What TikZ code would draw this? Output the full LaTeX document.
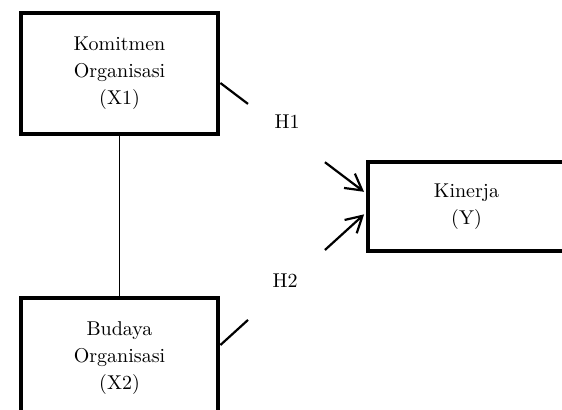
\documentclass[tikz,border=0pt]{standalone}
\usetikzlibrary{positioning}
\usetikzlibrary{arrows.meta}
\usetikzlibrary{calc}
\tikzstyle{varbox}=[rectangle,draw,line width=2.4pt,minimum width=98.5pt,inner sep=0pt,align=center,font=\fontsize{10}{13.5}\selectfont]
\tikzstyle{hyplabel}=[font=\fontsize{10}{13.5}\selectfont]
\tikzstyle{hypline}=[line width=1.1pt]

\begin{document}
\begin{tikzpicture}[x=0.5pt,y=-0.5pt]

   \clip (0,0) rectangle (562,409);

   % variables
   \node[varbox,minimum height=60.5pt] (x1) at (119.5,73.5) {Komitmen\\Organisasi\\(X1)};
   \node[varbox,minimum height=60.5pt] (x2) at (119.5,358.5) {Budaya\\Organisasi\\(X2)};
   \node[varbox,minimum height=44.5pt] (y) at (466.5,206.5) {Kinerja\\(Y)};

   \draw[line width=0.6pt] (x1) -- (x2);

   % hypotheses
   \foreach \src/\dsrc/\dy/\n in {x1/9.5/-13.5/1, x2/-13.5/6.5/2}
   {
      \coordinate (h\n a) at ($(\src.east)+(0,\dsrc)$);
      \coordinate (h\n b) at ($(y.west)+(0,\dy)$);
      \draw[hypline] (h\n a) -- ($(h\n a)!0.19!(h\n b)$);
      \draw[hypline,-{Straight Barb[length=8pt,width=9pt]},shorten >=1pt] ($(h\n a)!0.72!(h\n b)$) -- (h\n b);
   }

   \node[hyplabel] (h1) at (287,122) {H1};
   \node[hyplabel] (h2) at (285,281) {H2};

\end{tikzpicture}
\end{document}
